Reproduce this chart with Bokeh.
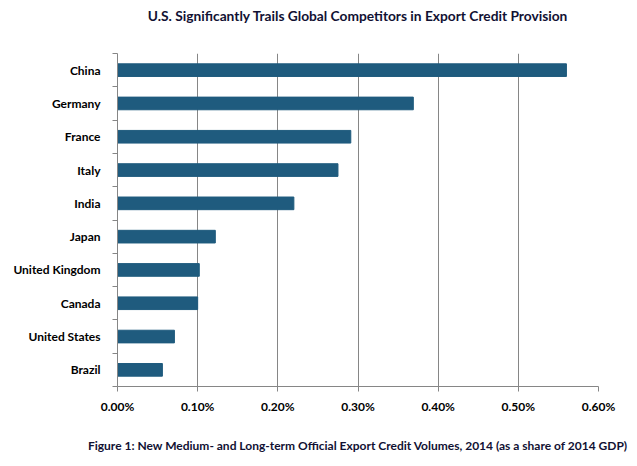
from bokeh.plotting import figure
from bokeh.models import FixedTicker, PrintfTickFormatter, Range1d, LinearAxis
from bokeh.embed import file_html
from bokeh.resources import INLINE

countries = ["China", "Germany", "France", "Italy", "India", "Japan",
             "United Kingdom", "Canada", "United States", "Brazil"]
values = [0.56, 0.369, 0.291, 0.275, 0.220, 0.122, 0.102, 0.100, 0.071, 0.056]
x_ticks = [0.0, 0.1, 0.2, 0.3, 0.4, 0.5, 0.6]
title_text = "U.S. Significantly Trails Global Competitors in Export Credit Provision"
caption_text = "Figure 1: New Medium- and Long-term Official Export Credit Volumes, 2014 (as a share of 2014 GDP)"

FONT = "Lato"
TEXT_COL = "#111133"
GRID_COL = "#868686"
BAR_COL = "#1F5B7E"

n = len(countries)
# bottom-most category is the last in the list
ypos = [n - 1 - i + 0.5 for i in range(n)]

p = figure(width=629, height=458, output_backend="svg", toolbar_location=None,
           x_range=Range1d(0, 0.6), y_range=Range1d(0, n),
           min_border_left=117, min_border_right=31, min_border_top=53, min_border_bottom=72)

p.hbar(y=ypos, right=values, left=0, height=0.38, color=BAR_COL)

p.outline_line_color = None
p.ygrid.grid_line_color = None
p.xgrid.grid_line_color = GRID_COL
p.xgrid.grid_line_width = 1

main_x = p.xaxis[0]
main_x.ticker = FixedTicker(ticks=x_ticks)
main_x.formatter = PrintfTickFormatter(format="%.2f%%")
main_x.axis_line_color = GRID_COL
main_x.major_tick_line_color = GRID_COL
main_x.major_tick_in = 0
main_x.major_tick_out = 5
main_x.minor_tick_line_color = None
main_x.major_label_text_font = FONT
main_x.major_label_text_font_size = "12px"
main_x.major_label_text_font_style = "bold"
main_x.major_label_text_color = "black"
main_x.major_label_standoff = 7

p.yaxis.ticker = FixedTicker(ticks=ypos, minor_ticks=list(range(n + 1)))
p.yaxis.major_label_overrides = {y: c for y, c in zip(ypos, countries)}
p.yaxis.axis_line_color = GRID_COL
p.yaxis.major_tick_line_color = None
p.yaxis.minor_tick_line_color = GRID_COL
p.yaxis.minor_tick_in = 0
p.yaxis.minor_tick_out = 5
p.yaxis.major_label_text_font = FONT
p.yaxis.major_label_text_font_size = "12px"
p.yaxis.major_label_text_font_style = "bold"
p.yaxis.major_label_text_color = "black"
p.yaxis.major_label_standoff = 11


def text_axis(label, size, standoff):
    ax = LinearAxis(ticker=FixedTicker(ticks=[]), axis_label=label,
                    axis_label_text_font=FONT, axis_label_text_font_size=size,
                    axis_label_text_font_style="bold", axis_label_text_color=TEXT_COL,
                    axis_label_standoff=standoff, axis_line_color=None,
                    major_tick_line_color=None, minor_tick_line_color=None,
                    major_tick_in=0, major_tick_out=0, minor_tick_in=0, minor_tick_out=0,
                    major_label_standoff=0)
    return ax


p.add_layout(text_axis(title_text, "13.75px", 30), "above")
p.add_layout(text_axis(caption_text, "12px", 21), "below")

open("out.html", "w").write(file_html(p, INLINE))
